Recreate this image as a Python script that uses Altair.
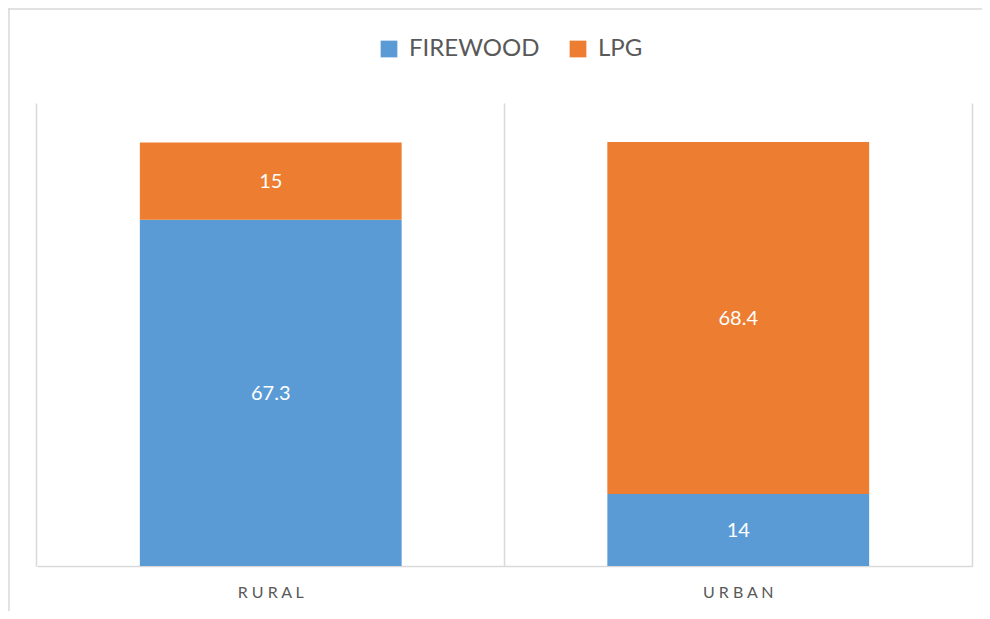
import altair as alt
import pandas as pd

categories = ["RURAL", "URBAN"]
series = ["FIREWOOD", "LPG"]
firewood = [67.3, 14]
lpg = [15, 68.4]
colors = ["#5B9BD5", "#ED7D31"]

rows = []
for i, c in enumerate(categories):
    rows.append({"area": c, "fuel": "FIREWOOD", "value": firewood[i], "order": 0})
    rows.append({"area": c, "fuel": "LPG", "value": lpg[i], "order": 1})
df = pd.DataFrame(rows)

FONT = "Lato"
W, H = 935, 463
P_IN, P_OUT = 0.44, 0.22
# grid at the start of each step rather than the start of the bar
GRID_POS = -(P_IN / 2) / (1 - P_IN)

x_enc = alt.X(
    "area:N",
    sort=categories,
    title=None,
    scale=alt.Scale(paddingInner=P_IN, paddingOuter=P_OUT),
    axis=alt.Axis(
        labelAngle=0,
        labelFont=FONT,
        labelFontSize=16,
        labelColor="#595959",
        labelPadding=18,
        labelExpr="join(split(datum.label, ''), ' ')",
        ticks=False,
        domainColor="#D9D9D9",
        domainWidth=1.5,
        grid=True,
        gridColor="#D9D9D9",
        gridWidth=1.5,
        bandPosition=GRID_POS,
    ),
)
y_enc = alt.Y(
    "value:Q",
    stack="zero",
    scale=alt.Scale(domain=[0, 90], nice=False),
    axis=alt.Axis(
        orient="right",
        labels=False,
        ticks=False,
        grid=False,
        title=None,
        domainColor="#D9D9D9",
        domainWidth=1.5,
    ),
)

base = alt.Chart(df)

bars = base.mark_bar().encode(
    x=x_enc,
    y=y_enc,
    color=alt.Color(
        "fuel:N",
        sort=series,
        scale=alt.Scale(domain=series, range=colors),
        legend=alt.Legend(
            title=None,
            orient="none",
            legendX=340,
            legendY=-66,
            direction="horizontal",
            symbolType="square",
            symbolSize=280,
            symbolStrokeWidth=0,
            labelFont=FONT,
            labelFontSize=24,
            labelColor="#595959",
            labelOffset=8,
            columnPadding=26,
            padding=0,
        ),
    ),
    order=alt.Order("order:Q"),
)

labels = base.mark_text(
    color="white", font=FONT, fontSize=20, baseline="middle", dy=1
).encode(
    x=alt.X("area:N", sort=categories),
    y=alt.Y("value:Q", stack="zero", bandPosition=0.5),
    text=alt.Text("value:Q"),
    order=alt.Order("order:Q"),
)

border_left = alt.Chart().mark_rule(color="#D9D9D9", strokeWidth=1.5, clip=False).encode(
    x=alt.value(-28), y=alt.value(-95), y2=alt.value(H + 45)
)
border_top = alt.Chart().mark_rule(color="#D9D9D9", strokeWidth=1.5, clip=False).encode(
    y=alt.value(-94), x=alt.value(-29), x2=alt.value(W + 10)
)

chart = (
    alt.layer(bars, labels, border_left, border_top)
    .properties(
        width=W,
        height=H,
        padding={"left": 29, "top": 95, "right": 10, "bottom": 45},
        autosize=alt.AutoSizeParams(type="none"),
        background="white",
    )
    .configure_view(stroke=None)
)

chart.save("out.html", embed_options={"renderer": "svg", "actions": False})
